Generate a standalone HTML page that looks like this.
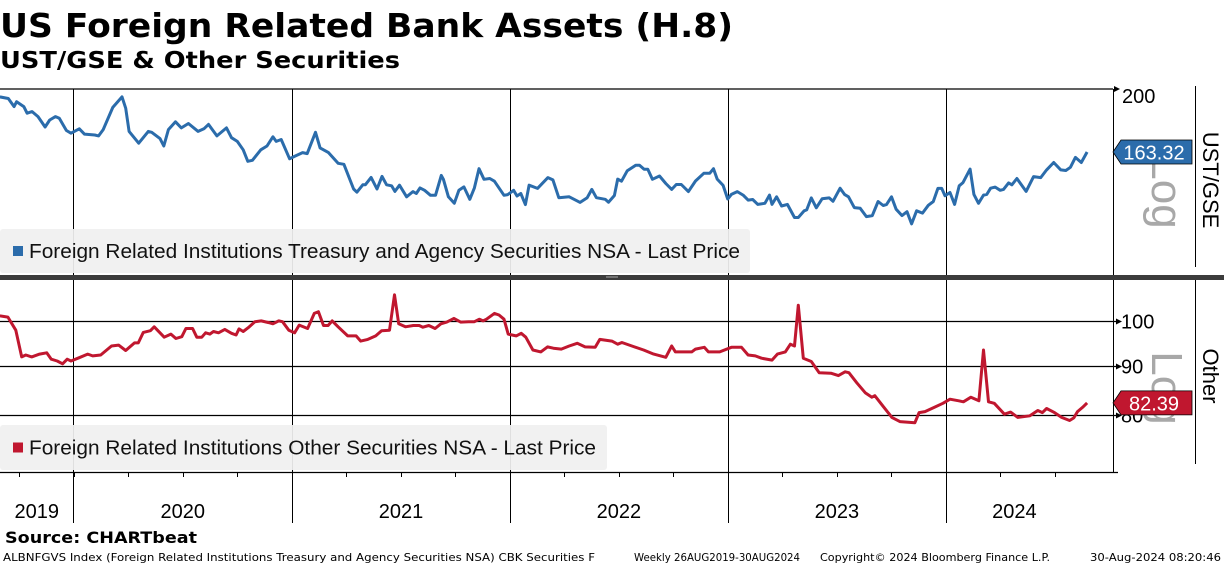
<!DOCTYPE html>
<html><head><meta charset="utf-8">
<style>
html,body{margin:0;padding:0;background:#fff;width:1224px;height:566px;overflow:hidden;font-family:"Liberation Sans",sans-serif;}
svg{display:block}
</style></head>
<body>
<svg id="chart" width="1224" height="566" viewBox="0 0 1224 566" xmlns="http://www.w3.org/2000/svg">
<text x="0" y="37" font-size="33" font-weight="bold" font-family="DejaVu Sans, sans-serif" textLength="733" lengthAdjust="spacingAndGlyphs" fill="#000">US Foreign Related Bank Assets (H.8)</text>
<text x="0" y="68" font-size="23" font-weight="bold" font-family="DejaVu Sans, sans-serif" textLength="400" lengthAdjust="spacingAndGlyphs" fill="#000">UST/GSE &amp; Other Securities</text>
<g id="grid"></g>
<g id="marks"></g>
<g id="overlay"></g>
<text x="5" y="543" font-size="16" font-weight="bold" font-family="DejaVu Sans, sans-serif" textLength="192" lengthAdjust="spacingAndGlyphs">Source: CHARTbeat</text>
<g font-family="DejaVu Sans, sans-serif" font-size="10.5">
<text x="3" y="561" textLength="592" lengthAdjust="spacingAndGlyphs">ALBNFGVS Index (Foreign Related Institutions Treasury and Agency Securities NSA) CBK Securities F</text>
<text x="634" y="561" textLength="166" lengthAdjust="spacingAndGlyphs">Weekly 26AUG2019-30AUG2024</text>
<text x="820" y="561" textLength="230" lengthAdjust="spacingAndGlyphs">Copyright© 2024 Bloomberg Finance L.P.</text>
<text x="1090" y="561" textLength="131" lengthAdjust="spacingAndGlyphs">30-Aug-2024 08:20:46</text>
</g>
</svg>
<script>
// ---- data (weeks since 26 Aug 2019, values) ----
const topWeeks=[0.7,2.7,4.1,4.7,6.4,7.2,8.4,9.8,11.5,12.6,14,14.9,16.6,17.7,19.7,20.9,23.4,24.3,25.4,27.7,29.9,30.8,31.6,33.9,36.2,37,39,39.9,41,42.7,44.1,45.8,48.1,49.5,50.6,52.6,54.9,56.1,57.5,58.9,60,61.1,63.1,64.6,66,66.8,68,70,71.1,73.1,74.2,76.2,77.3,79.3,81.6,83,85.3,86.1,87.5,88.1,89.5,90.9,92.1,93.2,94.4,95.2,96.3,98,99.5,100.3,101.2,102.3,103.7,104.9,106.3,106.8,108,109.4,110.5,111.7,113.1,114.2,115.3,116.5,117.9,119,121.3,122.2,123.6,124.4,125.3,126.4,127.3,129.3,131.8,133,134.4,136.9,139.5,141.2,142.3,143.4,145.5,146.3,147.7,148.5,149.4,150.8,152.8,153.7,154.8,155.7,156.8,158.5,160,161.4,162.5,163.7,165.4,167.1,169.1,170.5,171.4,172.3,173.7,174.8,175.7,177.1,178.5,179.7,180.8,182,183.7,184.8,185.4,186.5,187.7,189.1,190.8,191.7,193.1,193.7,194.8,196,197.4,199.1,200,201.7,202.8,203.7,205.1,206.5,208,209.4,210.8,212,212.8,214,215.1,216.5,217.7,218.8,220,221.4,222.8,224,225.1,226,226.8,228,229.1,230.2,231.1,232.8,233.7,234.8,236,236.8,237.7,238.8,240,240.8,242,242.8,244,246.2,248,249.7,251.1,252.8,254.5,255.7,256.8,258,259.4,260.8];
const topValues=[195,194,189,192,189,185,186,183,177,181,183,182,175,173.5,176,173,172.5,172,175.5,188.5,195,188,174.5,168,174.5,174,170.5,166.5,175.5,180,176.5,179,174.5,176,178.5,172,176.5,171,169,164.5,158.5,159,164.5,166.5,171.5,169,170,159.8,161,163,162.5,174,165.5,163,157.5,157,145,143.5,147,147,150.5,145,151,147,146.5,143.9,146.8,141.4,143.8,142.9,145.5,144.4,142.1,142.1,151.5,149.6,141.4,138.5,144.4,146,140.3,145.5,154.8,149.6,150,148.7,142.1,142.4,144.4,141.8,142.9,137.9,146.8,145.3,150.4,149.3,141,141.4,138.9,141,144.8,141,140.3,139,142,149.7,148.7,153.8,156.5,156.5,154.5,154.5,149.6,151.2,147.6,144.8,147.1,147.1,143.8,148.8,152.5,152.5,154.8,149.7,146.7,140.4,142.5,143.8,142.2,139.9,140.2,138,138.5,142.2,138,141.4,137.3,138,132.3,132.3,135.2,135.6,140.9,136.5,140.5,140.9,139.4,145.4,142.4,141.4,136.6,136.3,132.7,133.1,139.3,137.5,137.9,141.4,135.9,133.1,134.8,129.6,135.2,134.2,137.6,139.3,145.3,145.3,141.9,143.4,138,146.5,148,154.6,142.5,138.5,142.2,142.5,145.4,145.9,144.4,144.8,147.9,147,150,143.9,150.9,150.4,154.2,157.9,154.2,153.9,155.5,160.5,157.9,163.32];
const botWeeks=[0.7,2.6,4.5,5.9,6.9,8.3,10.2,11.9,13,14.4,15.7,16.8,17.7,19.6,21.7,22.9,24.8,27.4,29.1,30.8,32.9,33.8,35,36.7,37.6,40,41.6,42.8,44.2,45.2,46.8,47.8,49,49.9,50.9,51.8,53,54.5,56.1,57.2,57.9,58.9,60.1,61.7,63.2,65,66,67.4,68.3,69.8,71.2,72.3,74.3,75.9,76.9,78.1,79.2,80.2,81.6,83.9,85.9,87,88.7,90.6,92,93.9,95.1,96.1,97.7,99.6,101,101.9,103.3,104.8,106.2,107.6,109.3,110.9,112.8,114.2,115.4,116.3,117.1,119,120.1,121.3,122.3,123.2,124.2,125.4,126.5,128.2,130.1,131.7,133.1,135,136.9,138.8,140.7,143.1,144.2,147.1,148.5,149.5,151.9,154.7,157.1,160,161.4,162.3,166.2,167.1,169.2,170.2,172.9,175.7,178.1,179.7,181.4,182.9,185.4,186.7,188.6,189.8,190.8,191.7,192.9,194.8,196.7,199.5,201.3,202.9,203.8,205.7,207.7,209.3,210,212.1,214.1,216,219.6,220.6,222,224.2,226.3,228,230.1,231.2,233,234.9,236,237.2,238.6,241,242.5,244.2,247.1,249,250.1,251.1,253,254.7,256.6,257.6,258.5,259.7,260.8];
const botValues=[101.3,101,97.9,91.9,92.3,91.9,92.5,92.8,91.4,91,90.4,91.4,91,91.7,92.5,92.1,92.3,94.3,94.5,93.3,95,95,97.4,97.8,98.7,96.3,97,96,96.4,98.3,98.3,96.3,96.3,97.3,97,97.6,97.3,98.1,97.2,96.8,98.2,97.6,98.5,99.9,100.1,99.7,99.4,100.1,99.9,97.9,97.3,99.1,98.3,101.9,102.3,99,99,100.1,98.7,96.6,96.6,95.4,95.8,96.6,97.8,97.9,106.5,99.4,98.7,99,99,98.6,99,98.3,99.4,99.8,100.7,99.8,99.9,99.9,100.5,100.1,100.5,101.9,101.5,100.5,97,96.8,96.6,97.2,96.3,93.4,93,94.1,93.8,93.6,94.3,94.9,94.1,94,95.8,95.4,94.7,95.1,94.3,93.4,92.5,91.8,94.3,93,93,93.6,94,93,93,94,94,92.3,92.1,91.6,91.2,92.5,93,94.7,94.3,103.9,91.6,90.9,88.5,88.4,87.9,88.7,88.5,86.4,84.4,83.5,83.8,81.6,79.6,78.8,78.6,80.5,80.7,81.5,82.3,83.1,82.8,82.6,83.5,82.8,93.4,82.6,82.3,80.2,80.6,79.6,79.9,80.9,80.5,81.3,80.5,79.6,79,79.5,80.7,81.5,82.39];
const yearLabels=["2019","2020","2021","2022","2023","2024"];
const yearStartWeeks=[18.29,70.57,122.71,174.86,227.0];
const topTicks=[200];
const botTicks=[100,90,80];
const topLast="163.32", botLast="82.39";

// ---- scales ----
const PLOT_R=1113;
const x=w=>-3+4.18*w;
const yTop=v=>89+311*Math.log(200/v);
const yBot=v=>321.3+421*Math.log(100/v);
const NS="http://www.w3.org/2000/svg";
function mk(tag,attrs,parent,txt){const e=document.createElementNS(NS,tag);for(const k in attrs)e.setAttribute(k,attrs[k]);if(txt!==undefined)e.textContent=txt;parent.appendChild(e);return e;}
const grid=document.getElementById('grid'),marks=document.getElementById('marks'),ov=document.getElementById('overlay');

let l=mk('line',{x1:0,y1:89,x2:PLOT_R,y2:89,stroke:'#000','stroke-width':1.3},grid);


yearStartWeeks.forEach((w,i)=>{
  const xx=Math.round(x(w))+0.5;
  let g=mk('line',{x1:xx,y1:89,x2:xx,y2:275,stroke:'#000','stroke-width':1},grid);
  
  
  g=mk('line',{x1:xx,y1:280,x2:xx,y2:523,stroke:'#000','stroke-width':1},grid);
  
  
});
botTicks.forEach(t=>{
  const yy=Math.round(yBot(t))+0.5;
  let g=mk('line',{x1:0,y1:yy,x2:PLOT_R+6,y2:yy,stroke:'#000','stroke-width':1.2},grid);
  
  
  let tk=mk('polygon',{points:`${PLOT_R+3},${yy-3} ${PLOT_R+9},${yy} ${PLOT_R+3},${yy+3}`,fill:'#000'},grid);
  
  
  let lb=mk('text',{x:PLOT_R+8,y:yy+7,'font-size':20},grid,String(t));
  
  
});
topTicks.forEach(t=>{
  const yy=yTop(t);
  let tk=mk('polygon',{points:`${PLOT_R+1},${yy-3} ${PLOT_R+7},${yy} ${PLOT_R+1},${yy+3}`,fill:'#000'},grid);
  
  
  let lb=mk('text',{x:PLOT_R+9,y:yy+14,'font-size':20},grid,String(t));
  
  
});
l=mk('line',{x1:0,y1:472.5,x2:PLOT_R+5,y2:472.5,stroke:'#000','stroke-width':1.2},grid);


for(let q=0;q<22;q++){
  const w=yearStartWeeks[0]-52.14*0.75+q*13.04;
  const xx=Math.round(x(w))+0.5;
  if(xx<5||xx>PLOT_R)continue;
  const t=mk('line',{x1:xx,y1:472,x2:xx,y2:477,stroke:'#000','stroke-width':1},grid);
  
  
}
[[89,275],[280,472]].forEach(([a,b])=>{
  const e=mk('line',{x1:PLOT_R+0.5,y1:a,x2:PLOT_R+0.5,y2:b,stroke:'#000','stroke-width':1},grid);
  
  
  const f=mk('line',{x1:1195.5,y1:a-3,x2:1195.5,y2:b-8,stroke:'#000','stroke-width':1},grid);
  
  
});
const bounds=[0].concat(yearStartWeeks.map(x)).concat([PLOT_R-30]);
yearLabels.forEach((s,i)=>{
  const cx=(bounds[i]+bounds[i+1])/2;
  const t=mk('text',{x:cx,y:518,'font-size':20,'text-anchor':'middle'},grid,s);
  
  
});

function line(ws,vs,ys,col,name){
  const d=ws.map((w,i)=>(i?'L':'M')+x(w).toFixed(1)+','+ys(vs[i]).toFixed(1)).join('');
  const p=mk('path',{d:d,fill:'none',stroke:col,'stroke-width':3,'stroke-linejoin':'round'},marks);
  
  
}
line(topWeeks,topValues,yTop,'#2b6cab','series-ust-gse');
line(botWeeks,botValues,yBot,'#c0172f','series-other');

let sep=mk('rect',{x:0,y:275,width:1224,height:5,fill:'#3c3c3c'},ov);


mk('line',{x1:606,y1:277,x2:618,y2:277,stroke:'#aaa','stroke-width':1},ov);

function legend(x0,y0,w,h,col,txt,tl,name){
  const g=mk('g',{},ov);
  
  
  mk('rect',{x:x0,y:y0,width:w,height:h,rx:3,fill:'#f0f0f0','fill-opacity':0.93},g);
  mk('rect',{x:x0+13,y:y0+h/2-5,width:10,height:10,fill:col},g);
  mk('text',{x:x0+29,y:y0+h/2+7,'font-size':20,fill:'#111',textLength:tl,lengthAdjust:'spacingAndGlyphs'},g,txt);
}
legend(0,229,750,44,'#2b6cab','Foreign Related Institutions Treasury and Agency Securities NSA - Last Price',711,'legend-ust-gse');
legend(0,425,607,45,'#c0172f','Foreign Related Institutions Other Securities NSA - Last Price',567,'legend-other');

function rot(txt,cx,cy,size,col,name){
  const t=mk('text',{x:0,y:0,'font-size':size,fill:col,'text-anchor':'middle',transform:`translate(${cx},${cy}) rotate(90)`},ov,txt);
  
  
}
rot('Log',1152,192,44,'#a8a8a8','log-scale-watermark-top');
rot('Log',1152,388,44,'#a8a8a8','log-scale-watermark-bottom');
rot('UST/GSE',1203,180,22,'#000','y-axis-title-ust-gse');
rot('Other',1203,376,22,'#000','y-axis-title-other');

function tag(v,ys,col,txt,name){
  const yy=ys(v);
  const g=mk('g',{},ov);
  
  
  mk('polygon',{points:`${PLOT_R},${yy} ${PLOT_R+8},${yy-12} ${1192},${yy-12} ${1192},${yy+12} ${PLOT_R+8},${yy+12}`,fill:col,stroke:'#000','stroke-width':0.8},g);
  mk('text',{x:1154,y:yy+7.5,'font-size':20,fill:'#fff','text-anchor':'middle'},g,txt);
}
tag(topValues[topValues.length-1],yTop,'#2b6cab',topLast,'last-value-tag-ust-gse');
tag(botValues[botValues.length-1],yBot,'#c0172f',botLast,'last-value-tag-other');
</script>
</body></html>
